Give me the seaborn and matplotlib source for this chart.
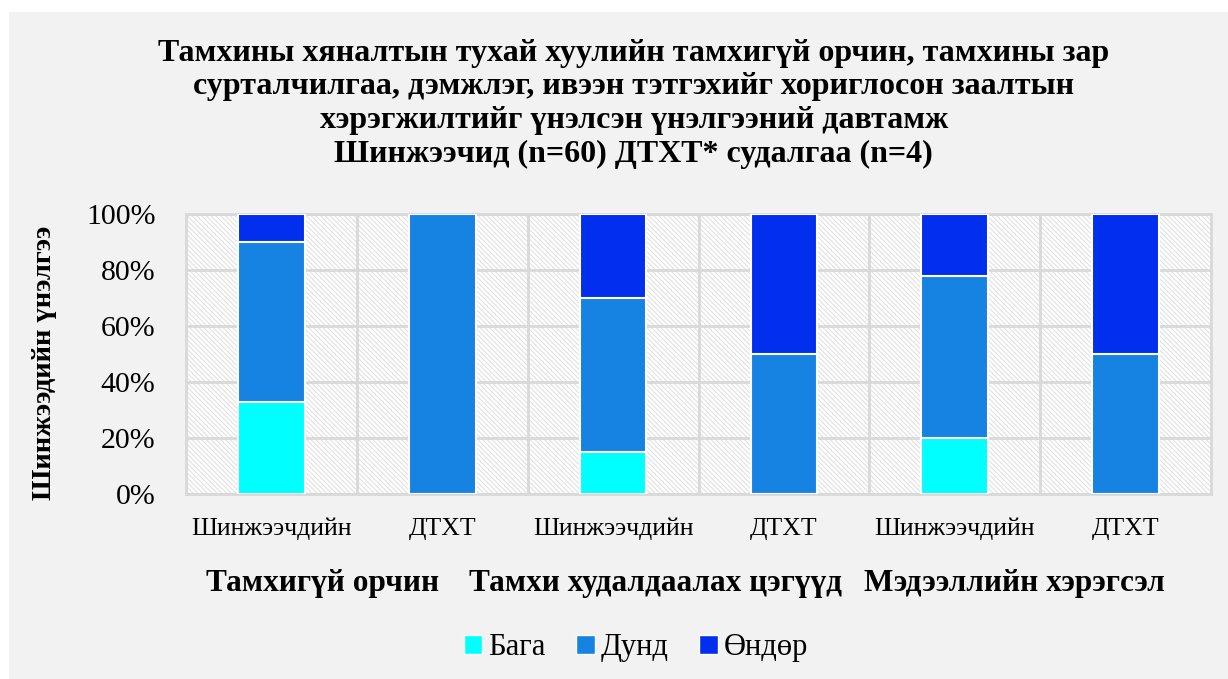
import numpy as np
import pandas as pd
import seaborn as sns
import matplotlib.pyplot as plt
from matplotlib.patches import Rectangle, Patch

# data (shares, %)
groups = ['Тамхигүй орчин', 'Тамхи худалдаалах цэгүүд', 'Мэдээллийн хэрэгсэл']
sources = ['Шинжээчдийн', 'ДТХТ']
baga = [33, 0, 15, 0, 20, 0]
dund = [57, 100, 55, 50, 58, 50]
ondor = [10, 0, 30, 50, 22, 50]
levels = ['Бага', 'Дунд', 'Өндөр']
colors = ['#00ffff', '#1683e3', '#022fee']

title = ('Тамхины хяналтын тухай хуулийн тамхигүй орчин, тамхины зар\n'
         'сурталчилгаа, дэмжлэг, ивээн тэтгэхийг хориглосон заалтын\n'
         'хэрэгжилтийг үнэлсэн үнэлгээний давтамж\n'
         'Шинжээчид (n=60) ДТХТ* судалгаа (n=4)')

sns.set_style('white')
plt.rcParams['font.family'] = ['Liberation Serif', 'DejaVu Serif']
plt.rcParams['text.color'] = 'black'
plt.rcParams['axes.labelcolor'] = 'black'
plt.rcParams['xtick.color'] = 'black'
plt.rcParams['ytick.color'] = 'black'
plt.rcParams['hatch.linewidth'] = 0.7

cats = [g + ' | ' + s for g in groups for s in sources]
df = pd.DataFrame({'cat': cats, 'Бага': baga, 'Дунд': dund, 'Өндөр': ondor})
df['c1'] = df['Бага']
df['c2'] = df['c1'] + df['Дунд']
df['c3'] = df['c2'] + df['Өндөр']

fig = plt.figure(figsize=(12.28, 6.79), dpi=100, facecolor='white')
fig.patches.append(Rectangle((9 / 1228, 0), 1, 667 / 679, transform=fig.transFigure,
                             facecolor='#f2f2f2', edgecolor='none', zorder=-10))
ax = fig.add_axes([186 / 1228, (679 - 494) / 679, (1211 - 186) / 1228, 280 / 679])

# stacked bars: draw cumulative heights, tallest first
for col, c in zip(['c3', 'c2', 'c1'], colors[::-1]):
    sns.barplot(data=df, x='cat', y=col, color=c, width=0.39, saturation=1,
                edgecolor='white', linewidth=1.5, ax=ax, zorder=3)

ax.set_xlim(-0.5, 5.5)
ax.set_ylim(0, 100)
ax.set_facecolor('white')
ax.add_patch(Rectangle((0, 0), 1, 1, transform=ax.transAxes, facecolor='white',
                       edgecolor='#dedede', hatch='\\' * 7, linewidth=0, zorder=0))

ax.set_yticks(np.arange(0, 101, 20))
ax.set_yticklabels([f'{v}%' for v in range(0, 101, 20)], fontsize=21.5)
ax.set_xticks(range(6))
ax.set_xticklabels(sources * 3, fontsize=18.5)
ax.set_xticks(np.arange(0.5, 5, 1), minor=True)
ax.tick_params(axis='both', which='both', length=0)
ax.tick_params(axis='y', pad=22)
ax.tick_params(axis='x', pad=17)
ax.grid(axis='y', which='major', color='#d9d9d9', linewidth=2)
ax.grid(axis='x', which='minor', color='#d9d9d9', linewidth=2)
ax.set_axisbelow(True)
for sp in ax.spines.values():
    sp.set_color('#d9d9d9')
    sp.set_linewidth(2)

ax.set_xlabel('')
ax.set_ylabel('Шинжээдийн үнэлгээ', fontsize=20.5, fontweight='bold')
ax.yaxis.set_label_coords(-0.126, 0.47)

for gx, g in zip([0.30, 2.25, 4.35], groups):
    ax.text(gx, -0.32, g, transform=ax.get_xaxis_transform(), ha='center', va='center',
            fontsize=22.5, fontweight='bold')

fig.text(0.516, 0.847, title, ha='center', va='center', fontsize=23,
         fontweight='bold', linespacing=1.22)

handles = [Patch(facecolor=c, edgecolor='white', label=l) for c, l in zip(colors, levels)]
fig.legend(handles=handles, loc='center', bbox_to_anchor=(0.518, 0.046), ncol=3,
           frameon=False, fontsize=22, handlelength=0.6, handleheight=0.6,
           handletextpad=0.2, columnspacing=1.0)

fig.savefig('out.png', dpi=100, facecolor=fig.get_facecolor())
